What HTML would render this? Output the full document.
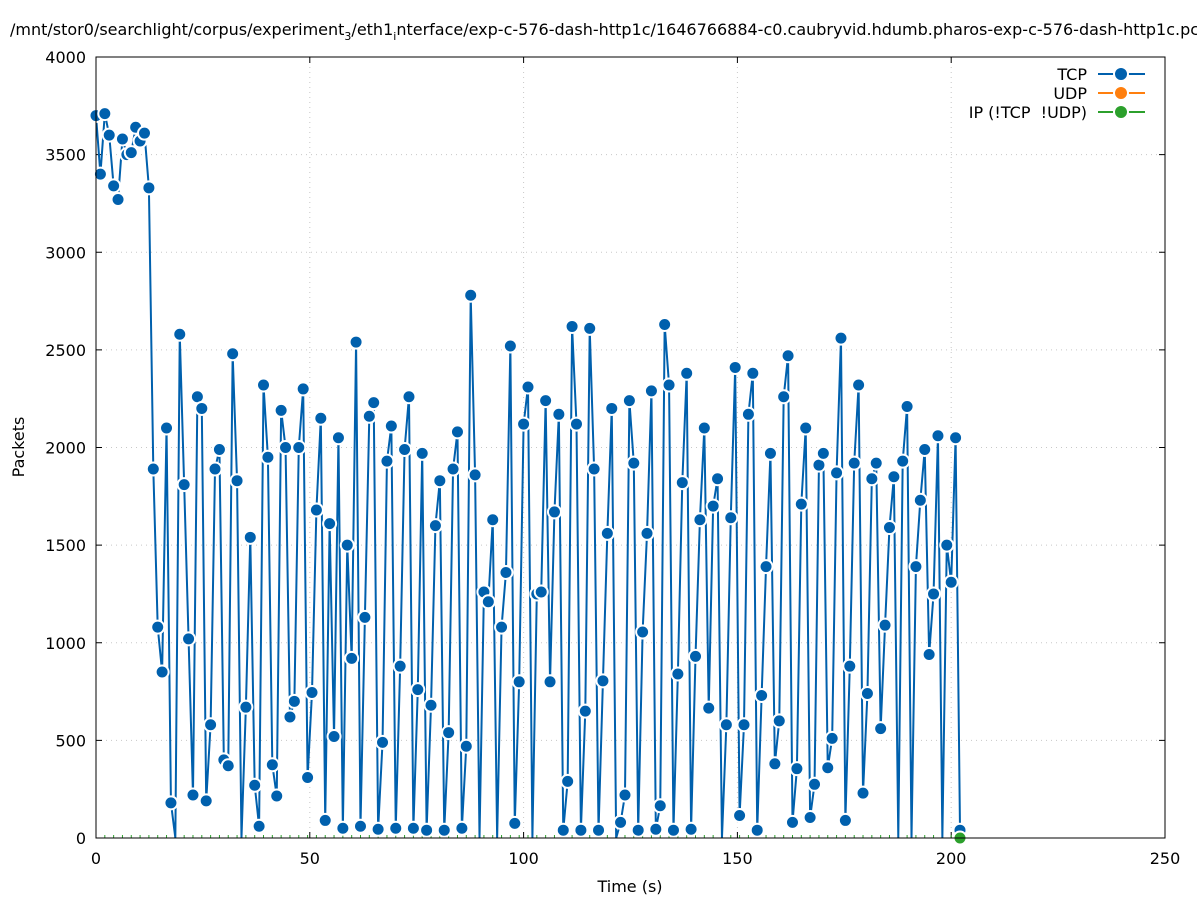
<!DOCTYPE html>
<html><head><meta charset="utf-8"><style>
body{margin:0;background:#fff;width:1197px;height:900px;overflow:hidden}
svg{font-family:"DejaVu Sans","Liberation Sans",sans-serif;font-size:16px}
</style></head><body>
<svg id="s" width="1197" height="900" viewBox="0 0 1197 900" xmlns="http://www.w3.org/2000/svg">
<rect width="1197" height="900" fill="#fff"/>
<text x="10" y="35" font-size="16">/mnt/stor0/searchlight/corpus/experiment<tspan font-size="11" dy="5">3</tspan><tspan dy="-5">/eth1</tspan><tspan font-size="11" dy="5">i</tspan><tspan dy="-5">nterface/exp-c-576-dash-http1c/1646766884-c0.caubryvid.hdumb.pharos-exp-c-576-dash-http1c.pcap</tspan></text>
<g id="grid" stroke="#c8c8c8" stroke-dasharray="1,4" stroke-width="1"></g>
<g id="ticks" stroke="#000" stroke-width="1"></g>
<g id="labels" fill="#000"></g>
<text x="24" y="447" transform="rotate(-90 24 447)" text-anchor="middle">Packets</text>
<text x="630" y="892" text-anchor="middle">Time (s)</text>
<g id="ser"></g>
<rect x="96" y="57" width="1069" height="781" fill="none" stroke="#000" stroke-width="1"/>
<g>
<text x="1087" y="80" text-anchor="end">TCP</text>
<text x="1087" y="99" text-anchor="end">UDP</text>
<text x="1087" y="118" text-anchor="end" xml:space="preserve">IP (!TCP  !UDP)</text>
<line x1="1098" y1="74" x2="1145" y2="74" stroke="#0060ad" stroke-width="2"/>
<line x1="1098" y1="93" x2="1145" y2="93" stroke="#ff7f0e" stroke-width="2"/>
<line x1="1098" y1="112" x2="1145" y2="112" stroke="#2ca02c" stroke-width="2"/>
<circle cx="1121" cy="74" r="7" fill="#0060ad" stroke="#fff" stroke-width="2"/>
<circle cx="1121" cy="93" r="7" fill="#ff7f0e" stroke="#fff" stroke-width="2"/>
<circle cx="1121" cy="112" r="7" fill="#2ca02c" stroke="#fff" stroke-width="2"/>
</g>
</svg>
<script>
var NS="http://www.w3.org/2000/svg";
function el(p,t,a,txt){var e=document.createElementNS(NS,t);for(var k in a)e.setAttribute(k,a[k]);if(txt!==undefined)e.textContent=txt;document.getElementById(p).appendChild(e);return e;}
var X0=96,X1=1165,Y0=838,Y1=57;
function px(t){return X0+(X1-X0)*t/250}
function py(v){return Y0-(Y0-Y1)*v/4000}
for(var v=0;v<=4000;v+=500){var y=py(v);
 if(v>0&&v<4000)el("grid","line",{x1:X0,y1:y,x2:X1,y2:y});
 el("ticks","line",{x1:X0,y1:y,x2:X0+6,y2:y});el("ticks","line",{x1:X1,y1:y,x2:X1-6,y2:y});
 el("labels","text",{x:86,y:y+6,"text-anchor":"end"},v);}
for(var t=0;t<=250;t+=50){var x=px(t);
 if(t>0&&t<250)el("grid","line",{x1:x,y1:Y1,x2:x,y2:Y0});
 el("ticks","line",{x1:x,y1:Y0,x2:x,y2:Y0-6});el("ticks","line",{x1:x,y1:Y1,x2:x,y2:Y1+6});
 el("labels","text",{x:x,y:864,"text-anchor":"middle"},t);}
var d=[3700,3400,3710,3600,3340,3270,3580,3500,3510,3640,3570,3610,3330,1890,1080,850,2100,180,0,2580,1810,1020,220,2260,2200,190,580,1890,1990,400,370,2480,1830,0,670,1540,270,60,2320,1950,375,215,2190,2000,620,700,2000,2300,310,745,1680,2150,90,1610,520,2050,50,1500,920,2540,60,1130,2160,2230,45,490,1930,2110,50,880,1990,2260,50,760,1970,40,680,1600,1830,40,540,1890,2080,50,470,2780,1860,0,1260,1210,1630,0,1080,1360,2520,75,800,2120,2310,0,1250,1260,2240,800,1670,2170,40,290,2620,2120,40,650,2610,1890,40,805,1560,2200,0,80,220,2240,1920,40,1055,1560,2290,45,165,2630,2320,40,840,1820,2380,45,930,1630,2100,665,1700,1840,0,580,1640,2410,115,580,2170,2380,40,730,1390,1970,380,600,2260,2470,80,355,1710,2100,105,275,1910,1970,360,510,1870,2560,90,880,1920,2320,230,740,1840,1920,560,1090,1590,1850,0,1930,2210,0,1390,1730,1990,940,1250,2060,0,1500,1310,2050,40];
var N=d.length,pts=[];
for(var i=0;i<N;i++){pts.push([96+i*(960-96)/(N-1),py(d[i])]);}
for(var i=0;i<N;i+=2){el("ser","line",{x1:pts[i][0],y1:Y0,x2:pts[i][0],y2:Y0-3,stroke:"#2ca02c","stroke-width":1});}
el("ser","polyline",{points:pts.map(function(p){return p[0]+","+p[1]}).join(" "),fill:"none",stroke:"#0060ad","stroke-width":2});
for(var i=0;i<N;i++){if(d[i]>0)el("ser","circle",{cx:pts[i][0],cy:pts[i][1],r:6.5,fill:"#0060ad",stroke:"#fff","stroke-width":2});}
el("ser","circle",{cx:960,cy:838,r:6.5,fill:"#2ca02c",stroke:"#fff","stroke-width":2});
</script>
</body></html>
